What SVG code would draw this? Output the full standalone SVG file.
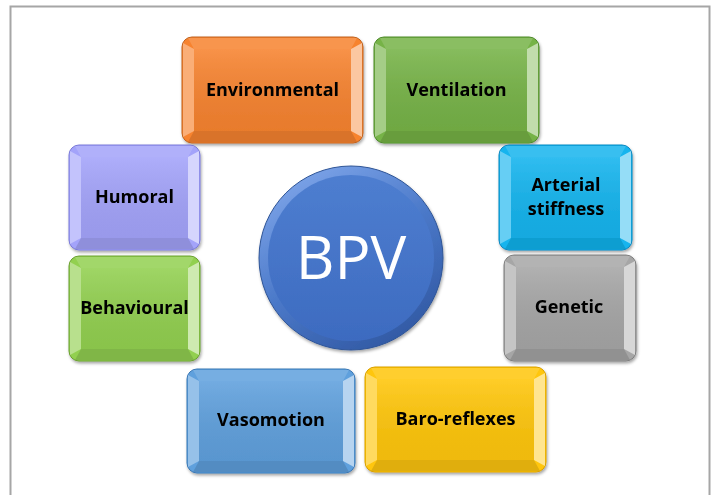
<svg xmlns="http://www.w3.org/2000/svg" width="716" height="495" viewBox="0 0 716 495">
<style>
.lbl{font-family:"Open Sans","Liberation Sans",sans-serif;font-weight:bold;font-size:18px;fill:#000;text-anchor:middle}
.hl{fill:#fff;opacity:0.35}
.hr{fill:#fff;opacity:0.55}
.hb{fill:#000;opacity:0.12}
.ht{fill:#fff;opacity:0.15}
.sheen{fill:url(#sheen)}
</style>
<defs>
<filter id="sh" x="-10%" y="-10%" width="120%" height="130%">
<feDropShadow dx="1" dy="2" stdDeviation="1.5" flood-color="#000" flood-opacity="0.35"/>
</filter>
<linearGradient id="sheen" x1="0" y1="0" x2="0" y2="1">
<stop offset="0" stop-color="#fff" stop-opacity="0.12"/>
<stop offset="1" stop-color="#000" stop-opacity="0.06"/>
</linearGradient>
<linearGradient id="rim" x1="0.2" y1="0" x2="0.8" y2="1">
<stop offset="0" stop-color="#7FA6EA"/>
<stop offset="0.5" stop-color="#4A78C8"/>
<stop offset="1" stop-color="#2F56A0"/>
</linearGradient>
<linearGradient id="face" x1="0" y1="0" x2="0" y2="1">
<stop offset="0" stop-color="#4E7ED0"/>
<stop offset="1" stop-color="#3D6BC0"/>
</linearGradient>
</defs>
<rect x="10.5" y="6.5" width="699" height="500" fill="#fff" stroke="#A6A6A6" stroke-width="2"/>
<g id="connectors"/>
<g id="n-environmental" filter="url(#sh)">
<rect x="182" y="37" width="181" height="106" rx="10" fill="#F7832F" stroke="#C0621E"/>
<polygon class="ht" points="188,38 357,38 351,49 194,49"/>
<polygon class="hl" points="183,43 194,49 194,131 183,137"/>
<polygon class="hr" points="362,43 351,49 351,131 362,137"/>
<polygon class="hb" points="188,142 357,142 351,131 194,131"/>
<rect x="194" y="49" width="157" height="82" class="sheen"/>
<text class="lbl" x="272.5" y="96">Environmental</text>
</g>
<g id="n-ventilation" filter="url(#sh)">
<rect x="374" y="37" width="165" height="106" rx="10" fill="#76B347" stroke="#4E8A2A"/>
<polygon class="ht" points="380,38 533,38 527,49 386,49"/>
<polygon class="hl" points="375,43 386,49 386,131 375,137"/>
<polygon class="hr" points="538,43 527,49 527,131 538,137"/>
<polygon class="hb" points="380,142 533,142 527,131 386,131"/>
<rect x="386" y="49" width="141" height="82" class="sheen"/>
<text class="lbl" x="456.5" y="96">Ventilation</text>
</g>
<g id="n-humoral" filter="url(#sh)">
<rect x="69" y="145" width="131" height="105" rx="10" fill="#A3A3FA" stroke="#7A7AD8"/>
<polygon class="ht" points="75,146 194,146 188,157 81,157"/>
<polygon class="hl" points="70,151 81,157 81,238 70,244"/>
<polygon class="hr" points="199,151 188,157 188,238 199,244"/>
<polygon class="hb" points="75,249 194,249 188,238 81,238"/>
<rect x="81" y="157" width="107" height="81" class="sheen"/>
<text class="lbl" x="134.5" y="203">Humoral</text>
</g>
<g id="n-behavioural" filter="url(#sh)">
<rect x="69" y="256" width="131" height="105" rx="10" fill="#92D050" stroke="#6AA030"/>
<polygon class="ht" points="75,257 194,257 188,268 81,268"/>
<polygon class="hl" points="70,262 81,268 81,349 70,355"/>
<polygon class="hr" points="199,262 188,268 188,349 199,355"/>
<polygon class="hb" points="75,360 194,360 188,349 81,349"/>
<rect x="81" y="268" width="107" height="81" class="sheen"/>
<text class="lbl" x="134.5" y="314">Behavioural</text>
</g>
<g id="n-arterial" filter="url(#sh)">
<rect x="499" y="145" width="133" height="105" rx="10" fill="#14B4EE" stroke="#0A88C0"/>
<polygon class="ht" points="505,146 626,146 620,157 511,157"/>
<polygon class="hl" points="500,151 511,157 511,238 500,244"/>
<polygon class="hr" points="631,151 620,157 620,238 631,244"/>
<polygon class="hb" points="505,249 626,249 620,238 511,238"/>
<rect x="511" y="157" width="109" height="81" class="sheen"/>
<text class="lbl" x="566" y="191">Arterial</text>
<text class="lbl" x="566" y="215">stiffness</text>
</g>
<g id="n-genetic" filter="url(#sh)">
<rect x="504" y="255" width="132" height="106" rx="10" fill="#A6A6A6" stroke="#7F7F7F"/>
<polygon class="ht" points="510,256 630,256 624,267 516,267"/>
<polygon class="hl" points="505,261 516,267 516,349 505,355"/>
<polygon class="hr" points="635,261 624,267 624,349 635,355"/>
<polygon class="hb" points="510,360 630,360 624,349 516,349"/>
<rect x="516" y="267" width="108" height="82" class="sheen"/>
<text class="lbl" x="569" y="313">Genetic</text>
</g>
<g id="n-vasomotion" filter="url(#sh)">
<rect x="187" y="369" width="168" height="104" rx="10" fill="#5FA0DD" stroke="#3B78B5"/>
<polygon class="ht" points="193,370 349,370 343,381 199,381"/>
<polygon class="hl" points="188,375 199,381 199,461 188,467"/>
<polygon class="hr" points="354,375 343,381 343,461 354,467"/>
<polygon class="hb" points="193,472 349,472 343,461 199,461"/>
<rect x="199" y="381" width="144" height="80" class="sheen"/>
<text class="lbl" x="271" y="426">Vasomotion</text>
</g>
<g id="n-baro" filter="url(#sh)">
<rect x="365" y="367" width="181" height="105" rx="10" fill="#FFC60A" stroke="#D9A000"/>
<polygon class="ht" points="371,368 540,368 534,379 377,379"/>
<polygon class="hl" points="366,373 377,379 377,460 366,466"/>
<polygon class="hr" points="545,373 534,379 534,460 545,466"/>
<polygon class="hb" points="371,471 540,471 534,460 377,460"/>
<rect x="377" y="379" width="157" height="81" class="sheen"/>
<text class="lbl" x="455.5" y="425">Baro-reflexes</text>
</g>
<g id="n-bpv" filter="url(#sh)">
<circle cx="351" cy="258" r="92" fill="url(#rim)" stroke="#2F5597" stroke-width="1"/>
<circle cx="351" cy="258" r="83" fill="url(#face)"/>
<text x="351" y="279" font-family="'Open Sans','Liberation Sans',sans-serif" font-size="60" fill="#fff" text-anchor="middle">BPV</text>
</g>
</svg>
